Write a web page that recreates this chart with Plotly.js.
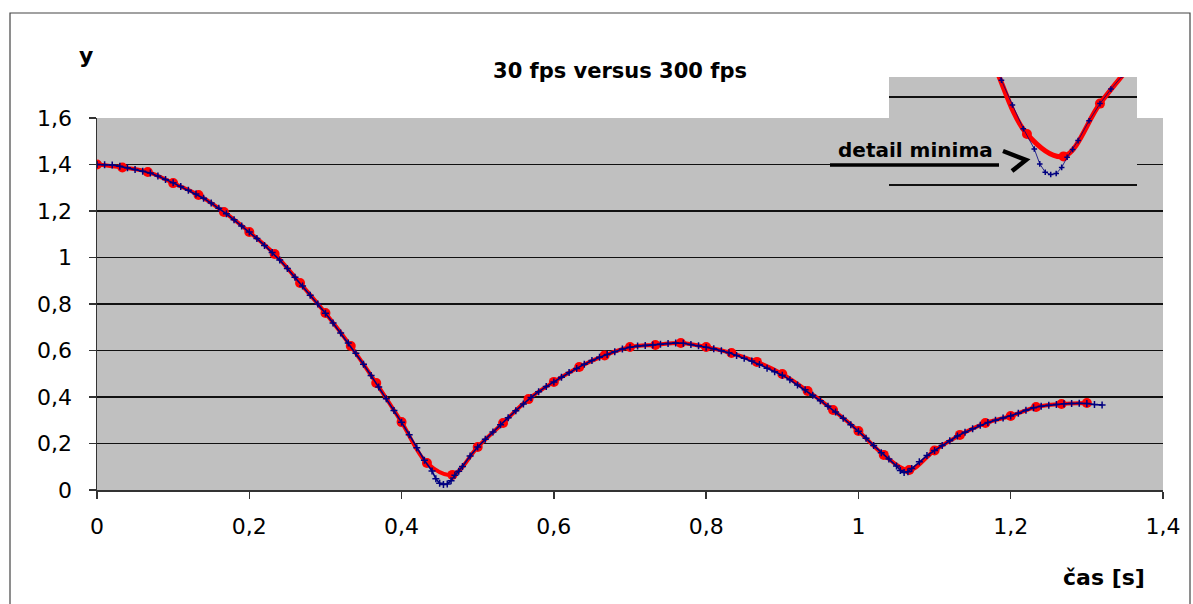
<!DOCTYPE html>
<html>
<head>
<meta charset="utf-8">
<script src="https://cdn.plot.ly/plotly-3.0.1.min.js"></script>
<style>html,body{margin:0;padding:0;background:#fff;}#chart{width:1193px;height:604px;}</style>
</head>
<body>
<div id="chart"></div>
<script>
// 30 fps series (red)
const time30 = [0, 0.0333, 0.0667, 0.1, 0.1333, 0.1667, 0.2, 0.2333, 0.2667, 0.3,
  0.3333, 0.3667, 0.4, 0.4333, 0.4667, 0.5, 0.5333, 0.5667, 0.6, 0.6333,
  0.6667, 0.7, 0.7333, 0.7667, 0.8, 0.8333, 0.8667, 0.9, 0.9333, 0.9667,
  1.0, 1.0333, 1.0667, 1.1, 1.1333, 1.1667, 1.2, 1.2333, 1.2667, 1.3];
const y30 = [1.400, 1.387, 1.368, 1.320, 1.269, 1.196, 1.110, 1.015, 0.890, 0.761,
  0.619, 0.460, 0.292, 0.116, 0.065, 0.185, 0.288, 0.391, 0.465, 0.529,
  0.579, 0.615, 0.624, 0.632, 0.615, 0.589, 0.551, 0.499, 0.426, 0.344,
  0.254, 0.151, 0.086, 0.170, 0.237, 0.288, 0.318, 0.357, 0.370, 0.374];

// 300 fps series (navy)
const time300 = [0, 0.01, 0.02, 0.03, 0.04, 0.05, 0.06, 0.07, 0.08, 0.09,
  0.10, 0.11, 0.12, 0.13, 0.14, 0.15, 0.16, 0.17, 0.18, 0.19,
  0.20, 0.21, 0.22, 0.23, 0.24, 0.25, 0.26, 0.27, 0.28, 0.29,
  0.30, 0.31, 0.32, 0.33, 0.34, 0.35, 0.36, 0.37, 0.38, 0.39,
  0.40, 0.41, 0.42, 0.43, 0.44, 0.445, 0.45, 0.455, 0.46, 0.465,
  0.47, 0.475, 0.48, 0.49, 0.50, 0.51, 0.52, 0.53, 0.54, 0.55,
  0.56, 0.57, 0.58, 0.59, 0.60, 0.61, 0.62, 0.63, 0.64, 0.65,
  0.66, 0.67, 0.68, 0.69, 0.70, 0.71, 0.72, 0.73, 0.74, 0.75,
  0.76, 0.77, 0.78, 0.79, 0.80, 0.81, 0.82, 0.83, 0.84, 0.85,
  0.86, 0.87, 0.88, 0.89, 0.90, 0.91, 0.92, 0.93, 0.94, 0.95,
  0.96, 0.97, 0.98, 0.99, 1.00, 1.01, 1.02, 1.03, 1.04, 1.05,
  1.055, 1.06, 1.065, 1.07, 1.08, 1.09, 1.10, 1.11, 1.12, 1.13,
  1.14, 1.15, 1.16, 1.17, 1.18, 1.19, 1.20, 1.21, 1.22, 1.23,
  1.24, 1.25, 1.26, 1.27, 1.28, 1.29, 1.30, 1.31, 1.32];
const y300 = [1.400, 1.399, 1.398, 1.392, 1.386, 1.379, 1.371, 1.363, 1.351, 1.336,
  1.321, 1.305, 1.289, 1.273, 1.255, 1.234, 1.212, 1.188, 1.162, 1.136,
  1.110, 1.082, 1.052, 1.022, 0.989, 0.953, 0.915, 0.877, 0.838, 0.800,
  0.760, 0.718, 0.675, 0.632, 0.588, 0.541, 0.492, 0.443, 0.393, 0.342,
  0.291, 0.238, 0.182, 0.128, 0.082, 0.048, 0.029, 0.024, 0.026, 0.040,
  0.063, 0.081, 0.101, 0.146, 0.185, 0.218, 0.250, 0.281, 0.311, 0.341,
  0.370, 0.398, 0.423, 0.445, 0.465, 0.485, 0.505, 0.523, 0.541, 0.557,
  0.571, 0.583, 0.595, 0.606, 0.614, 0.619, 0.622, 0.624, 0.627, 0.630,
  0.632, 0.631, 0.626, 0.620, 0.614, 0.607, 0.599, 0.590, 0.579, 0.567,
  0.555, 0.540, 0.524, 0.509, 0.494, 0.474, 0.452, 0.431, 0.408, 0.384,
  0.360, 0.335, 0.309, 0.281, 0.253, 0.223, 0.191, 0.160, 0.133, 0.103,
  0.084, 0.075, 0.079, 0.092, 0.121, 0.148, 0.170, 0.191, 0.212, 0.232,
  0.248, 0.263, 0.278, 0.290, 0.300, 0.310, 0.318, 0.330, 0.343, 0.354,
  0.360, 0.364, 0.368, 0.371, 0.372, 0.373, 0.372, 0.368, 0.366];

// tick labels
const xTickVals = [0, 0.2, 0.4, 0.6, 0.8, 1, 1.2, 1.4];
const xTickText = ['0', '0,2', '0,4', '0,6', '0,8', '1', '1,2', '1,4'];
const yTickVals = [0, 0.2, 0.4, 0.6, 0.8, 1, 1.2, 1.4, 1.6];
const yTickText = ['0', '0,2', '0,4', '0,6', '0,8', '1', '1,2', '1,4', '1,6'];

const chartTitle = '30 fps versus 300 fps';
const yLabel = 'y';
const xLabel = 'čas [s]';
const noteText = 'detail minima';

const FONT = 'DejaVu Sans, Arial, sans-serif';
const RED = '#FF0000';
const NAVY = '#000080';

function redTrace(xa, ya, lw, ms) {
  return {x: time30, y: y30, xaxis: xa, yaxis: ya, type: 'scatter', mode: 'lines+markers',
    line: {color: RED, width: lw, shape: 'spline', smoothing: 1},
    marker: {color: RED, size: ms, symbol: 'circle'}, hoverinfo: 'skip', showlegend: false};
}
function blueTrace(xa, ya, lw, ms) {
  return {x: time300, y: y300, xaxis: xa, yaxis: ya, type: 'scatter', mode: 'lines+markers',
    line: {color: NAVY, width: lw},
    marker: {color: NAVY, size: ms, symbol: 'cross-thin', line: {color: NAVY, width: 1.5}},
    hoverinfo: 'skip', showlegend: false};
}

const data = [
  redTrace('x', 'y', 4, 10),
  blueTrace('x', 'y', 1.6, 5),
  redTrace('x2', 'y2', 5, 10),
  blueTrace('x2', 'y2', 0.8, 4)
];

// paper helpers (plot area: x 97..1163, y 77..490 px)
const L = 97, T = 77, W = 1066, H = 413;
const px = v => (v - L) / W;
const py = v => (T + H - v) / H;

const layout = {
  width: 1193, height: 604,
  margin: {l: L, r: 1193 - L - W, t: T, b: 604 - T - H, pad: 0},
  paper_bgcolor: '#FFFFFF',
  plot_bgcolor: '#C0C0C0',
  showlegend: false,
  font: {family: FONT, color: '#000'},
  title: {text: '<b>' + chartTitle + '</b>', font: {family: FONT, size: 21, color: '#000'},
    xref: 'container', yref: 'container', x: 620 / 1193, y: 1 - 71 / 604,
    xanchor: 'center', yanchor: 'middle'},
  xaxis: {domain: [0, 1], range: [0, 1.4], tickvals: xTickVals, ticktext: xTickText,
    showgrid: false, zeroline: false, showline: true, linecolor: '#333', linewidth: 1.5,
    ticks: 'outside', ticklen: 7, tickwidth: 1.5, tickcolor: '#333',
    tickfont: {family: FONT, size: 22, color: '#000'}, ticklabelstandoff: 9,
    fixedrange: true},
  yaxis: {domain: [0, py(118)], range: [0, 1.6], tickvals: yTickVals, ticktext: yTickText,
    showgrid: true, gridcolor: '#111', gridwidth: 1.8, zeroline: false,
    showline: true, linecolor: '#333', linewidth: 1.5,
    ticks: 'outside', ticklen: 7, tickwidth: 1.5, tickcolor: '#333',
    tickfont: {family: FONT, size: 22, color: '#000'}, ticklabelstandoff: 12,
    fixedrange: true},
  xaxis2: {domain: [px(889), px(1137)], anchor: 'y2', range: [0.3073, 0.5338],
    showgrid: false, zeroline: false, showline: false, showticklabels: false, ticks: '',
    fixedrange: true},
  yaxis2: {domain: [py(195), 1], anchor: 'x2', range: [-0.0227, 0.2455],
    tickvals: [0, 0.2], showgrid: true, gridcolor: '#111', gridwidth: 1.8,
    zeroline: true, zerolinecolor: '#111', zerolinewidth: 1.8,
    showline: false, showticklabels: false, ticks: '', fixedrange: true},
  annotations: [
    {text: '<b>' + yLabel + '</b>', xref: 'paper', yref: 'paper', x: px(86), y: py(55),
      xanchor: 'center', yanchor: 'middle', showarrow: false, font: {family: FONT, size: 22, color: '#000'}},
    {text: '<b>' + xLabel + '</b>', xref: 'paper', yref: 'paper', x: px(1104), y: py(577),
      xanchor: 'center', yanchor: 'middle', showarrow: false, font: {family: FONT, size: 22, color: '#000'}},
    {text: '<b>' + noteText + '</b>', xref: 'paper', yref: 'paper', x: px(915), y: py(150),
      xanchor: 'center', yanchor: 'middle', showarrow: false, font: {family: FONT, size: 20, color: '#000'}}
  ],
  shapes: [
    {type: 'rect', xref: 'paper', yref: 'paper', x0: px(10), x1: px(1190), y0: py(640), y1: py(13),
      line: {color: '#444', width: 1.2}, fillcolor: 'rgba(0,0,0,0)', layer: 'above'},
    {type: 'line', xref: 'paper', yref: 'paper', x0: px(830), x1: px(999), y0: py(165), y1: py(165),
      line: {color: '#000', width: 3.5}, layer: 'above'},
    {type: 'path', xref: 'paper', yref: 'paper',
      path: 'M ' + px(1003) + ' ' + py(151) + ' L ' + px(1026) + ' ' + py(160) + ' L ' + px(1012) + ' ' + py(171),
      line: {color: '#000', width: 4.5}, layer: 'above'}
  ]
};

Plotly.newPlot('chart', data, layout, {staticPlot: true, displayModeBar: false});
</script>
</body>
</html>
